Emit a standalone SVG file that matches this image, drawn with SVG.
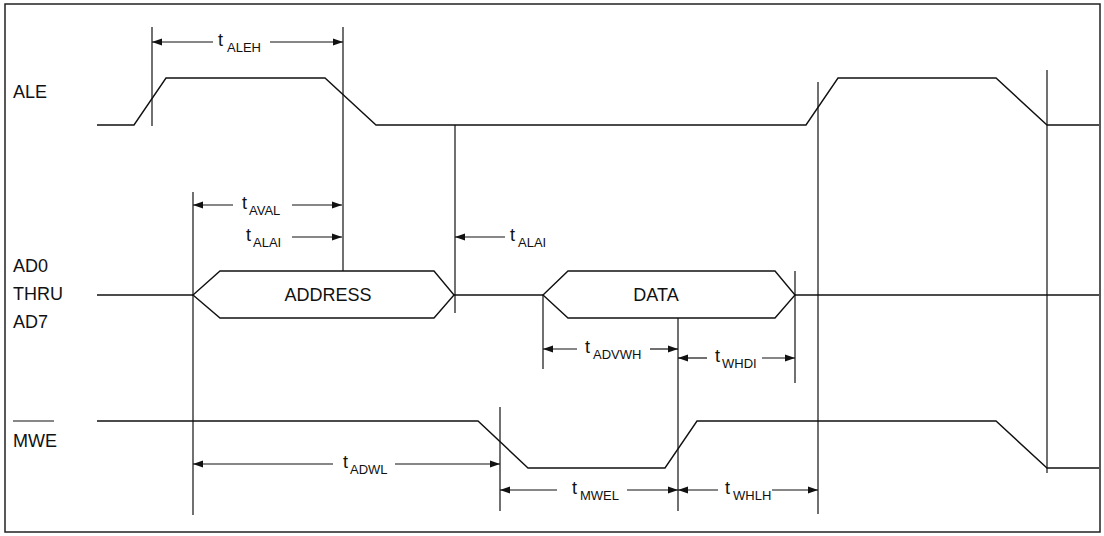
<svg xmlns="http://www.w3.org/2000/svg" width="1104" height="536" viewBox="0 0 1104 536">
<style>
.sig{fill:none;stroke:#111;stroke-width:1.4;stroke-linejoin:miter}
.ref{fill:none;stroke:#111;stroke-width:1.2}
.dim{fill:none;stroke:#111;stroke-width:1.2}
.lbl{font-family:"Liberation Sans",Arial,sans-serif;font-size:18px;fill:#111}
.t{font-family:"Liberation Sans",Arial,sans-serif;font-size:18px;fill:#111}
.sub{font-family:"Liberation Sans",Arial,sans-serif;font-size:13px;fill:#111}
</style>
<defs>
<marker id="ah" markerWidth="11" markerHeight="8" refX="10" refY="4" orient="auto-start-reverse" markerUnits="userSpaceOnUse">
<path d="M0,0.5 L10,4 L0,7.5 Z" fill="#111"/>
</marker>
</defs>
<rect x="5" y="4" width="1095" height="528" fill="#fff" stroke="#222" stroke-width="1.5"/>
<g id="labels">
<text class="lbl" x="13" y="98">ALE</text>
<text class="lbl" x="13" y="272">AD0</text>
<text class="lbl" x="13" y="300">THRU</text>
<text class="lbl" x="13" y="328">AD7</text>
<text class="lbl" x="13" y="447">MWE</text>
<line x1="13" y1="421" x2="54" y2="421" stroke="#111" stroke-width="1.2"/>
</g>
<g id="ALE">
<polyline class="sig" points="97,125 134,125 166,78 325,78 376,125 806,125 838,78 996,78 1047,125 1099,125"/>
</g>
<g id="bus">
<line class="sig" x1="97" y1="295" x2="193" y2="295"/>
<line class="sig" x1="454" y1="295" x2="543" y2="295"/>
<line class="sig" x1="795" y1="295" x2="1099" y2="295"/>
</g>
<g id="address">
<polygon class="sig" points="193,295 220,271 434,271 454,295 434,318 220,318"/>
<text class="lbl" x="328" y="301" text-anchor="middle">ADDRESS</text>
</g>
<g id="data">
<polygon class="sig" points="543,295 568,271 775,271 795,295 775,318 568,318"/>
<text class="lbl" x="656" y="301" text-anchor="middle">DATA</text>
</g>
<g id="MWE">
<polyline class="sig" points="97,421 478,421 528,468 665,468 697,421 996,421 1047,468 1099,468"/>
</g>
<g id="connectors">
<line class="ref" x1="152" y1="27" x2="152" y2="126"/>
<line class="ref" x1="343" y1="27" x2="343" y2="271"/>
<line class="ref" x1="193" y1="192" x2="193" y2="515"/>
<line class="ref" x1="455" y1="125" x2="455" y2="313"/>
<line class="ref" x1="543" y1="295" x2="543" y2="369"/>
<line class="ref" x1="678" y1="318" x2="678" y2="511"/>
<line class="ref" x1="795" y1="271" x2="795" y2="383"/>
<line class="ref" x1="500" y1="407" x2="500" y2="511"/>
<line class="ref" x1="818" y1="82" x2="818" y2="514"/>
<line class="ref" x1="1047" y1="70" x2="1047" y2="473"/>

<line class="dim" x1="213" y1="42" x2="152" y2="42" marker-end="url(#ah)"/>
<line class="dim" x1="270" y1="42" x2="343" y2="42" marker-end="url(#ah)"/>
<line class="dim" x1="233" y1="205" x2="193" y2="205" marker-end="url(#ah)"/>
<line class="dim" x1="292" y1="205" x2="342" y2="205" marker-end="url(#ah)"/>
<line class="dim" x1="292" y1="237" x2="342" y2="237" marker-end="url(#ah)"/>
<line class="dim" x1="505" y1="237" x2="455" y2="237" marker-end="url(#ah)"/>
<line class="dim" x1="577" y1="349" x2="543" y2="349" marker-end="url(#ah)"/>
<line class="dim" x1="650" y1="349" x2="678" y2="349" marker-end="url(#ah)"/>
<line class="dim" x1="707" y1="358" x2="678" y2="358" marker-end="url(#ah)"/>
<line class="dim" x1="762" y1="358" x2="795" y2="358" marker-end="url(#ah)"/>
<line class="dim" x1="333" y1="464" x2="193" y2="464" marker-end="url(#ah)"/>
<line class="dim" x1="395" y1="464" x2="500" y2="464" marker-end="url(#ah)"/>
<line class="dim" x1="557" y1="490" x2="500" y2="490" marker-end="url(#ah)"/>
<line class="dim" x1="627" y1="490" x2="678" y2="490" marker-end="url(#ah)"/>
<line class="dim" x1="718" y1="490" x2="678" y2="490" marker-end="url(#ah)"/>
<line class="dim" x1="772" y1="490" x2="818" y2="490" marker-end="url(#ah)"/>
</g>
<g id="timing-labels">
<text class="t" x="218" y="46">t</text><text class="sub" x="227" y="52">ALEH</text>
<text class="t" x="242" y="209">t</text><text class="sub" x="249" y="215">AVAL</text>
<text class="t" x="246" y="241">t</text><text class="sub" x="253" y="247">ALAI</text>
<text class="t" x="510" y="241">t</text><text class="sub" x="518" y="247">ALAI</text>
<text class="t" x="585" y="353">t</text><text class="sub" x="593" y="359">ADVWH</text>
<text class="t" x="715" y="362">t</text><text class="sub" x="722" y="368">WHDI</text>
<text class="t" x="343" y="468">t</text><text class="sub" x="350" y="474">ADWL</text>
<text class="t" x="572" y="494">t</text><text class="sub" x="580" y="500">MWEL</text>
<text class="t" x="725" y="494">t</text><text class="sub" x="733" y="500">WHLH</text>
</g>
</svg>
